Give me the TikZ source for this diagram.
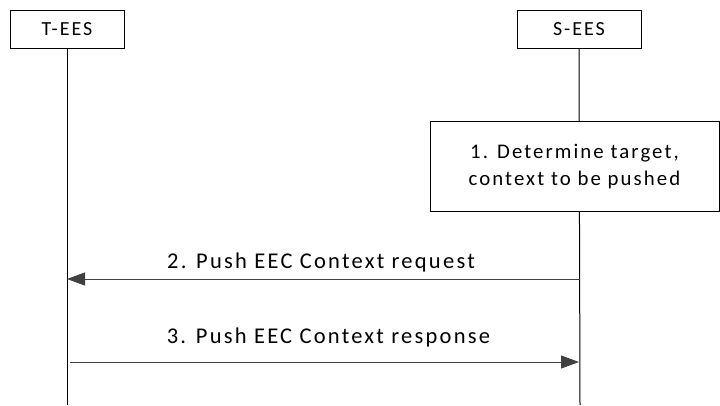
\documentclass[tikz,border=0pt]{standalone}
\usepackage{fontspec}
\setmainfont{Carlito}[LetterSpace=10]
\usetikzlibrary{arrows.meta}
\begin{document}
\begin{tikzpicture}[x=1pt,y=-1pt,
  entity/.style={draw,line width=1pt,minimum height=38pt,inner sep=0pt,font=\fontsize{20}{22}\selectfont},
  stepbox/.style={draw,fill=white,line width=1pt,inner sep=0pt,align=center,font=\fontsize{20.8}{28}\selectfont},
  life/.style={line width=1pt},
  msg/.style={line width=1pt,draw=black!75,-{Triangle[length=18pt,width=13pt]}},
  lbl/.style={font=\fontsize{22.5}{24}\selectfont,inner sep=0pt}]
\useasboundingbox (0,0) rectangle (720,405);
\node[entity,minimum width=114pt] (t) at (67,29) {T-EES};
\node[entity,minimum width=124pt] (s) at (579,29.5) {S-EES};
\coordinate (tend) at (67,405);
\coordinate (send) at (580,405);
\draw[life] (t.south) -- (tend);
\draw[life] (s.south) -- (send);
\node[stepbox,minimum width=289pt,minimum height=90pt] (b1) at (574.5,166) {\raisebox{-3pt}{\begin{tabular}{@{}c@{}}1. Determine target,\\[-1pt]context to be pushed\end{tabular}}};
\coordinate (a2s) at (580,279);
\coordinate (a2e) at (67,279);
\coordinate (a3s) at (70,362);
\coordinate (a3e) at (579,362);
\draw[msg] (a2s) -- (a2e);
\draw[msg] (a3s) -- (a3e);
\node[lbl] (l2) at (321,262) {2. Push EEC Context request};
\node[lbl] (l3) at (328.5,337) {3. Push EEC Context response};
\end{tikzpicture}
\end{document}
